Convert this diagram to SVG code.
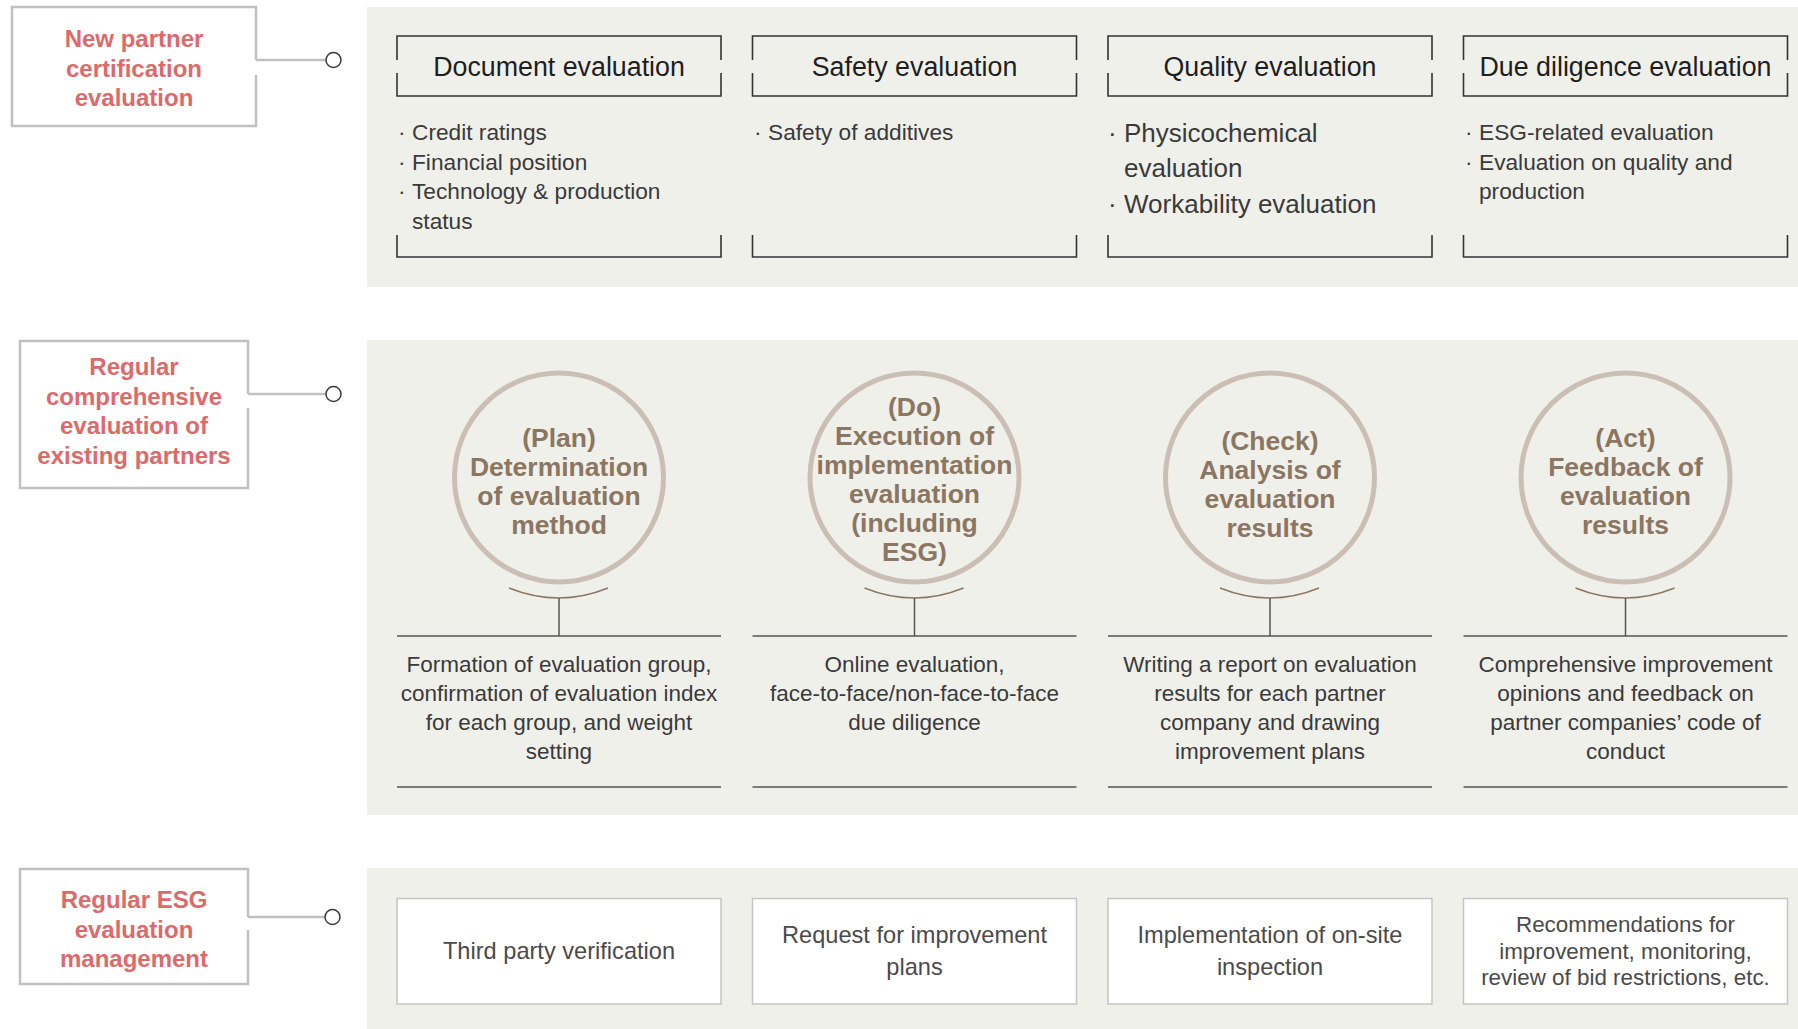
<svg xmlns="http://www.w3.org/2000/svg" width="1798" height="1029" viewBox="0 0 1798 1029">
<defs>
<style>
.bg{fill:#ffffff}
.panel{fill:#f0f0eb}
.lbox{fill:#ffffff;stroke:#c0c0c4;stroke-width:2.5}
.ltxt{font-family:"Liberation Sans",Arial,sans-serif;font-weight:bold;font-size:24px;fill:#dc6a6b;text-anchor:middle}
.conn{stroke:#c0c0c4;stroke-width:2.5;fill:none}
.dot{fill:#ffffff;stroke:#3a3a3a;stroke-width:1.5}
.brk{fill:none;stroke:#333333;stroke-width:1.6}
.hdr{font-family:"Liberation Sans",Arial,sans-serif;font-size:26.8px;fill:#1e1e1e;text-anchor:middle}
.bul{font-family:"Liberation Sans",Arial,sans-serif;font-size:22.7px;fill:#3a3a3a}
.bulL{font-family:"Liberation Sans",Arial,sans-serif;font-size:26px;fill:#3a3a3a}
.circ{fill:none;stroke:#cbbfb5;stroke-width:5}
.ctxt{font-family:"Liberation Sans",Arial,sans-serif;font-weight:bold;font-size:26.5px;fill:#8b7661;text-anchor:middle}
.smile{fill:none;stroke:#8b7661;stroke-width:1.5}
.stem{stroke:#555555;stroke-width:1.5;fill:none}
.rule{stroke:#555555;stroke-width:1.5}
.desc{font-family:"Liberation Sans",Arial,sans-serif;font-size:22.5px;fill:#3a3a3a;text-anchor:middle}
.wbox{fill:#ffffff;stroke:#c4c4c4;stroke-width:1.5}
.btxt{font-family:"Liberation Sans",Arial,sans-serif;font-size:23.6px;fill:#4a4a4a;text-anchor:middle}
</style>
</defs>
<rect class="bg" x="0" y="0" width="1798" height="1029"/>

<g id="panels">
<rect class="panel" x="367" y="7" width="1431" height="280"/>
<rect class="panel" x="367" y="340" width="1431" height="475"/>
<rect class="panel" x="367" y="868" width="1431" height="161"/>
</g>

<g id="label-new-partner">
<path class="lbox" d="M256 75 V126 H12 V7 H256 V60"/>
<text class="ltxt"><tspan x="134" y="47">New partner</tspan><tspan x="134" y="76.5">certification</tspan><tspan x="134" y="106">evaluation</tspan></text>
</g>
<g id="label-regular-comprehensive">
<path class="lbox" d="M248 408 V488 H20 V341 H248 V394"/>
<text class="ltxt"><tspan x="134" y="375">Regular</tspan><tspan x="134" y="404.5">comprehensive</tspan><tspan x="134" y="434">evaluation of</tspan><tspan x="134" y="463.5">existing partners</tspan></text>
</g>
<g id="label-regular-esg">
<path class="lbox" d="M248 930 V984 H20 V869 H248 V917"/>
<text class="ltxt"><tspan x="134" y="908">Regular ESG</tspan><tspan x="134" y="937.5">evaluation</tspan><tspan x="134" y="967">management</tspan></text>
</g>

<g id="connectors">
<line class="conn" x1="256" y1="60" x2="326" y2="60"/>
<circle class="dot" cx="333.5" cy="60" r="7.5"/>
<line class="conn" x1="248" y1="394" x2="326" y2="394"/>
<circle class="dot" cx="333.5" cy="394" r="7.5"/>
<line class="conn" x1="248" y1="917" x2="325" y2="917"/>
<circle class="dot" cx="332.5" cy="917" r="7.5"/>
<path class="smile" d="M509 588 Q559 608 608 588"/>
<line class="stem" x1="559" y1="598" x2="559" y2="636"/>
<path class="smile" d="M864.5 588 Q914.5 608 963.5 588"/>
<line class="stem" x1="914.5" y1="598" x2="914.5" y2="636"/>
<path class="smile" d="M1220 588 Q1270 608 1319 588"/>
<line class="stem" x1="1270" y1="598" x2="1270" y2="636"/>
<path class="smile" d="M1575.5 588 Q1625.5 608 1674.5 588"/>
<line class="stem" x1="1625.5" y1="598" x2="1625.5" y2="636"/>
</g>

<g id="doc-eval">
<path class="brk" d="M397 60 V36 H721 V60 M397 73 V96 H721 V73 M397 235 V257 H721 V235"/>
<text class="hdr" x="559" y="75.5">Document evaluation</text>
<text class="bul"><tspan x="398" y="140">·</tspan><tspan x="412" y="140">Credit ratings</tspan><tspan x="398" y="169.5">·</tspan><tspan x="412" y="169.5">Financial position</tspan><tspan x="398" y="199">·</tspan><tspan x="412" y="199">Technology &amp; production</tspan><tspan x="412" y="228.5">status</tspan></text>
</g>
<g id="safety-eval">
<path class="brk" d="M752.5 60 V36 H1076.5 V60 M752.5 73 V96 H1076.5 V73 M752.5 235 V257 H1076.5 V235"/>
<text class="hdr" x="914.5" y="75.5">Safety evaluation</text>
<text class="bul"><tspan x="754" y="140">·</tspan><tspan x="768" y="140">Safety of additives</tspan></text>
</g>
<g id="quality-eval">
<path class="brk" d="M1108 60 V36 H1432 V60 M1108 73 V96 H1432 V73 M1108 235 V257 H1432 V235"/>
<text class="hdr" x="1270" y="75.5">Quality evaluation</text>
<text class="bulL"><tspan x="1108" y="142">·</tspan><tspan x="1124" y="142">Physicochemical</tspan><tspan x="1124" y="177">evaluation</tspan><tspan x="1108" y="212.5">·</tspan><tspan x="1124" y="212.5">Workability evaluation</tspan></text>
</g>
<g id="due-diligence-eval">
<path class="brk" d="M1463.5 60 V36 H1787.5 V60 M1463.5 73 V96 H1787.5 V73 M1463.5 235 V257 H1787.5 V235"/>
<text class="hdr" x="1625.5" y="75.5">Due diligence evaluation</text>
<text class="bul"><tspan x="1465" y="140">·</tspan><tspan x="1479" y="140">ESG-related evaluation</tspan><tspan x="1465" y="169.5">·</tspan><tspan x="1479" y="169.5">Evaluation on quality and</tspan><tspan x="1479" y="199">production</tspan></text>
</g>

<g id="plan">
<circle class="circ" cx="559" cy="477.5" r="104.5"/>
<text class="ctxt"><tspan x="559" y="447">(Plan)</tspan><tspan x="559" y="476">Determination</tspan><tspan x="559" y="505">of evaluation</tspan><tspan x="559" y="534">method</tspan></text>
<line class="rule" x1="397" y1="636" x2="721" y2="636"/>
<line class="rule" x1="397" y1="787" x2="721" y2="787"/>
<text class="desc"><tspan x="559" y="671.5">Formation of evaluation group,</tspan><tspan x="559" y="701">confirmation of evaluation index</tspan><tspan x="559" y="730">for each group, and weight</tspan><tspan x="559" y="759">setting</tspan></text>
</g>
<g id="do">
<circle class="circ" cx="914.5" cy="477.5" r="104.5"/>
<text class="ctxt"><tspan x="914.5" y="416">(Do)</tspan><tspan x="914.5" y="445">Execution of</tspan><tspan x="914.5" y="474">implementation</tspan><tspan x="914.5" y="503">evaluation</tspan><tspan x="914.5" y="532">(including</tspan><tspan x="914.5" y="561">ESG)</tspan></text>
<line class="rule" x1="752.5" y1="636" x2="1076.5" y2="636"/>
<line class="rule" x1="752.5" y1="787" x2="1076.5" y2="787"/>
<text class="desc"><tspan x="914.5" y="671.5">Online evaluation,</tspan><tspan x="914.5" y="701">face-to-face/non-face-to-face</tspan><tspan x="914.5" y="730">due diligence</tspan></text>
</g>
<g id="check">
<circle class="circ" cx="1270" cy="477.5" r="104.5"/>
<text class="ctxt"><tspan x="1270" y="450">(Check)</tspan><tspan x="1270" y="479">Analysis of</tspan><tspan x="1270" y="508">evaluation</tspan><tspan x="1270" y="537">results</tspan></text>
<line class="rule" x1="1108" y1="636" x2="1432" y2="636"/>
<line class="rule" x1="1108" y1="787" x2="1432" y2="787"/>
<text class="desc"><tspan x="1270" y="671.5">Writing a report on evaluation</tspan><tspan x="1270" y="701">results for each partner</tspan><tspan x="1270" y="730">company and drawing</tspan><tspan x="1270" y="759">improvement plans</tspan></text>
</g>
<g id="act">
<circle class="circ" cx="1625.5" cy="477.5" r="104.5"/>
<text class="ctxt"><tspan x="1625.5" y="447">(Act)</tspan><tspan x="1625.5" y="476">Feedback of</tspan><tspan x="1625.5" y="505">evaluation</tspan><tspan x="1625.5" y="534">results</tspan></text>
<line class="rule" x1="1463.5" y1="636" x2="1787.5" y2="636"/>
<line class="rule" x1="1463.5" y1="787" x2="1787.5" y2="787"/>
<text class="desc"><tspan x="1625.5" y="671.5">Comprehensive improvement</tspan><tspan x="1625.5" y="701">opinions and feedback on</tspan><tspan x="1625.5" y="730">partner companies’ code of</tspan><tspan x="1625.5" y="759">conduct</tspan></text>
</g>

<g id="third-party">
<rect class="wbox" x="397" y="898.5" width="324" height="105.5"/>
<text class="btxt" x="559" y="959">Third party verification</text>
</g>
<g id="request-improvement">
<rect class="wbox" x="752.5" y="898.5" width="324" height="105.5"/>
<text class="btxt"><tspan x="914.5" y="943">Request for improvement</tspan><tspan x="914.5" y="975">plans</tspan></text>
</g>
<g id="onsite-inspection">
<rect class="wbox" x="1108" y="898.5" width="324" height="105.5"/>
<text class="btxt"><tspan x="1270" y="943">Implementation of on-site</tspan><tspan x="1270" y="975">inspection</tspan></text>
</g>
<g id="recommendations">
<rect class="wbox" x="1463.5" y="898.5" width="324" height="105.5"/>
<text class="btxt" style="font-size:22.4px"><tspan x="1625.5" y="932">Recommendations for</tspan><tspan x="1625.5" y="958.5">improvement, monitoring,</tspan><tspan x="1625.5" y="985">review of bid restrictions, etc.</tspan></text>
</g>
</svg>
